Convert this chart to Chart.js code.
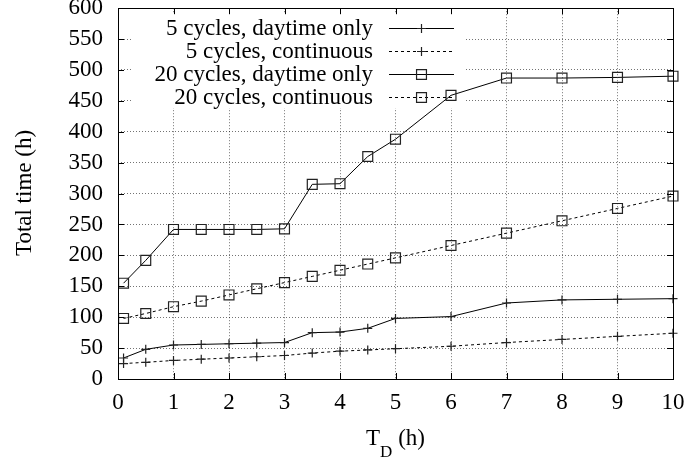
<!DOCTYPE html>
<html>
<head>
<meta charset="utf-8">
<script src="https://cdn.jsdelivr.net/npm/chart.js@4/dist/chart.umd.min.js"></script>
<style>
html,body{margin:0;padding:0;background:#fff;}
#wrap{width:688px;height:459px;}
</style>
</head>
<body>
<div id="wrap"><canvas id="c" width="688" height="459"></canvas></div>
<script>
// ---- data ----
const tdHours = [0.1, 0.5, 1, 1.5, 2, 2.5, 3, 3.5, 4, 4.5, 5, 6, 7, 8, 9, 10];
const fiveDaytime = [34, 48, 55, 56, 57, 58, 59, 75, 76, 82, 98, 101, 123, 128, 129, 130];
const fiveContinuous = [25, 27, 30, 32, 34, 36, 38, 42, 45, 47, 49, 53, 59, 64, 69, 74];
const twentyDaytime = [155, 192, 242, 242, 242, 242, 243, 315, 316, 360, 388, 459, 487, 487, 488, 490];
const twentyContinuous = [98, 106, 117, 126, 136, 146, 156, 166, 176, 186, 196, 216, 236, 256, 276, 296];
const seriesNames = ["5 cycles, daytime only", "5 cycles, continuous", "20 cycles, daytime only", "20 cycles, continuous"];
const xTicks = [0,1,2,3,4,5,6,7,8,9,10];
const yTicks = [0,50,100,150,200,250,300,350,400,450,500,550,600];
const xTitle = ["T", "D", " (h)"];
const yTitle = "Total time (h)";

const FONT = "'Liberation Serif', 'DejaVu Serif', serif";
const FS = 23;

function pts(ys){ return tdHours.map((x,i)=>({x:x,y:ys[i]})); }

const styles = [
  {dash:[], pt:'cross', r:4.5},
  {dash:[3,3], pt:'cross', r:4.5},
  {dash:[], pt:'rect', r:7},
  {dash:[3,3], pt:'rect', r:7}
];
const allData = [fiveDaytime, fiveContinuous, twentyDaytime, twentyContinuous];

const datasets = allData.map((d,i)=>({
  label: seriesNames[i],
  data: pts(d),
  borderColor:'#000',
  borderWidth:1,
  borderDash: styles[i].dash,
  pointStyle: styles[i].pt,
  pointRadius: styles[i].r,
  pointHoverRadius: styles[i].r,
  pointBorderColor:'#222',
  pointBackgroundColor:'rgba(0,0,0,0)',
  pointBorderWidth:1.2,
  fill:false,
  tension:0,
  clip:false
}));

const customPlugin = {
  id:'gp',
  beforeDatasetsDraw(chart){
    const ctx = chart.ctx;
    ctx.save();
    ctx.fillStyle = '#fff';
    ctx.fillRect(132, 14, 333, 94);
    ctx.restore();
  },
  afterDraw(chart){
    const ctx = chart.ctx, a = chart.chartArea;
    const xs = chart.scales.x, ys = chart.scales.y;
    ctx.save();
    // frame
    ctx.strokeStyle = '#000'; ctx.lineWidth = 1; ctx.setLineDash([]);
    ctx.strokeRect(Math.round(a.left)+0.5, Math.round(a.top)+0.5, Math.round(a.right-a.left), Math.round(a.bottom-a.top));
    // inward ticks
    ctx.beginPath();
    yTicks.forEach(v=>{
      const p = Math.round(ys.getPixelForValue(v))+0.5;
      ctx.moveTo(a.left, p); ctx.lineTo(a.left+6, p);
      ctx.moveTo(a.right, p); ctx.lineTo(a.right-6, p);
    });
    xTicks.forEach(v=>{
      const p = Math.round(xs.getPixelForValue(v))+0.5;
      ctx.moveTo(p, a.bottom); ctx.lineTo(p, a.bottom-6);
      ctx.moveTo(p, a.top); ctx.lineTo(p, a.top+6);
    });
    ctx.stroke();
    // legend
    const rows = [27.5, 50.5, 73.7, 97];
    ctx.font = FS + "px " + FONT;
    ctx.textAlign = 'right';
    ctx.textBaseline = 'middle';
    rows.forEach((y,i)=>{
      ctx.fillStyle = '#000';
      ctx.fillText(seriesNames[i], 373, y+1);
      ctx.beginPath();
      ctx.setLineDash(styles[i].dash);
      ctx.strokeStyle = '#000';
      ctx.moveTo(389, Math.round(y)+0.5); ctx.lineTo(454, Math.round(y)+0.5);
      ctx.stroke();
      ctx.setLineDash([]);
      ctx.strokeStyle = '#222';
      ctx.fillStyle = 'rgba(0,0,0,0)';
      ctx.lineWidth = 1.2;
      Chart.helpers.drawPoint(ctx, {pointStyle: styles[i].pt, radius: styles[i].r, rotation:0, borderWidth:1.2}, 421.5, Math.round(y)+0.5);
      ctx.lineWidth = 1;
    });
    ctx.fillStyle = '#000';
    // y title
    ctx.save();
    ctx.translate(25, 193);
    ctx.rotate(-Math.PI/2);
    ctx.textAlign = 'center';
    ctx.textBaseline = 'middle';
    ctx.font = FS + "px " + FONT;
    ctx.fillText(yTitle, 0, 0);
    ctx.restore();
    // x title with subscript
    ctx.textAlign = 'left';
    ctx.textBaseline = 'alphabetic';
    const fMain = FS + "px " + FONT, fSub = "17px " + FONT;
    ctx.font = fMain; const w1 = ctx.measureText(xTitle[0]).width;
    ctx.font = fSub; const w2 = ctx.measureText(xTitle[1]).width;
    ctx.font = fMain; const w3 = ctx.measureText(xTitle[2]).width;
    let x0 = (a.left + a.right)/2 - (w1+w2+w3)/2;
    ctx.font = fMain; ctx.fillText(xTitle[0], x0, 445);
    ctx.font = fSub; ctx.fillText(xTitle[1], x0+w1, 457);
    ctx.font = fMain; ctx.fillText(xTitle[2], x0+w1+w2, 445);
    ctx.restore();
  }
};

new Chart(document.getElementById('c'), {
  type:'line',
  data:{datasets},
  options:{
    responsive:false,
    animation:false,
    devicePixelRatio:1,
    layout:{padding:{left:0, right:15, top:7.5, bottom:0}},
    plugins:{legend:{display:false}, tooltip:{enabled:false}},
    scales:{
      x:{
        type:'linear', min:0, max:10,
        afterBuildTicks(s){ s.ticks = xTicks.map(v=>({value:v})); },
        afterFit(s){ s.height = 80; s.paddingLeft = 0; s.paddingRight = 0; },
        grid:{color:'rgba(0,0,0,0.55)', lineWidth:1, drawTicks:false},
        border:{display:false, dash:[1,2]},
        ticks:{color:'#000', padding:10, font:{family:FONT, size:FS}, maxRotation:0, autoSkip:false}
      },
      y:{
        type:'linear', min:0, max:600,
        afterBuildTicks(s){ s.ticks = yTicks.map(v=>({value:v})); },
        afterFit(s){ s.width = 118; s.paddingTop = 0; s.paddingBottom = 0; },
        grid:{color:'rgba(0,0,0,0.55)', lineWidth:1, drawTicks:false},
        border:{display:false, dash:[1,2]},
        ticks:{color:'#000', padding:15, font:{family:FONT, size:FS}, autoSkip:false}
      }
    }
  },
  plugins:[customPlugin]
});
</script>
</body>
</html>
